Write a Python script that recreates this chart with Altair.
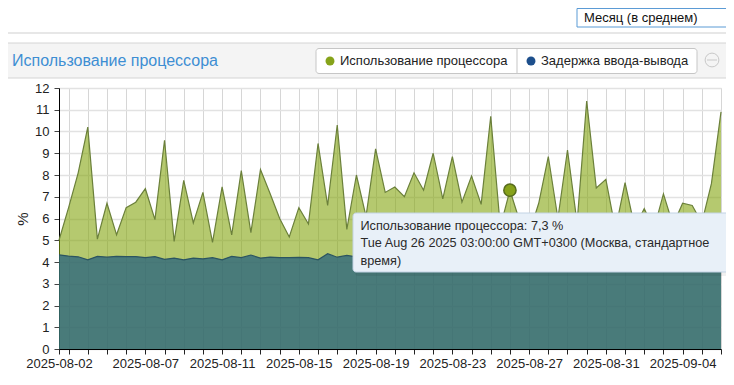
import altair as alt
import pandas as pd

# ---- data (half-day samples starting 2025-08-02 12:00 UTC) ----
cpu = [5.0, 6.5, 8.1, 10.2, 5.05, 6.7, 5.25, 6.5, 6.75, 7.37,
       5.95, 9.6, 4.95, 7.75, 5.8, 7.2, 4.9, 7.45, 5.25, 8.2,
       5.35, 8.25, 7.15, 6.0, 5.15, 6.5, 5.75, 9.45, 6.6, 10.3,
       5.5, 8.0, 6.1, 9.2, 7.2, 7.45, 7.0, 8.1, 7.3, 9.0,
       6.9, 8.85, 6.75, 7.95, 6.65, 10.7, 5.6, 7.3, 5.9, 5.3,
       6.7, 8.85, 6.0, 9.15, 5.8, 11.4, 7.4, 7.8, 5.5, 7.65,
       5.6, 6.45, 5.5, 7.13, 5.7, 6.7, 6.6, 5.8, 7.6, 10.9]
io = [4.33, 4.27, 4.24, 4.1, 4.26, 4.22, 4.26, 4.25, 4.25, 4.2,
      4.25, 4.12, 4.18, 4.1, 4.18, 4.14, 4.2, 4.1, 4.26, 4.2,
      4.32, 4.18, 4.22, 4.2, 4.2, 4.21, 4.2, 4.1, 4.38, 4.22,
      4.3, 4.24, 4.2, 4.27, 4.18, 4.22, 4.25, 4.16, 4.22, 4.28,
      4.2, 4.18, 4.24, 4.2, 4.26, 4.15, 4.22, 4.2, 4.25, 4.18,
      4.22, 4.2, 4.26, 4.16, 4.22, 4.2, 4.24, 4.18, 4.22, 4.2,
      4.25, 4.2, 4.18, 4.23, 4.2, 4.22, 4.18, 4.24, 4.2, 4.22]
step = 0.5  # days between samples
t = [i * step for i in range(len(cpu))]

# x-axis ticks (days from 2025-08-02 12:00 UTC)
tick_values = [0.0] + [0.5 + k for k in range(34)] + [34.5]
label_values = [0.0, 4.5, 8.5, 12.5, 16.5, 20.5, 24.5, 28.5, 32.5]
label_texts = ["2025-08-02", "2025-08-07", "2025-08-11", "2025-08-15", "2025-08-19",
               "2025-08-23", "2025-08-27", "2025-08-31", "2025-09-04"]
y_ticks = list(range(0, 13))

hover_t = 23.5
hover_text = ["Использование процессора: 7,3 %",
              "Tue Aug 26 2025 03:00:00 GMT+0300 (Москва, стандартное",
              "время)"]

title_text = "Использование процессора"
legend_names = ["Использование процессора", "Задержка ввода-вывода"]
legend_colors = ["#86a31a", "#1d4f8c"]
period_text = "Месяц (в среднем)"

df = pd.DataFrame({"t": t, "cpu": cpu, "io": io})

label_expr = ""
for v, s in zip(label_values, label_texts):
    label_expr += f"datum.value == {v} ? '{s}' : "
label_expr += "''"

FONT = "Liberation Sans"
W, H = 662, 261

xscale = alt.Scale(domain=[0, 34.5], nice=False, zero=False)
yscale = alt.Scale(domain=[0, 12], nice=False)

xaxis = alt.Axis(values=tick_values, labelExpr=label_expr, title=None, grid=True,
                 gridColor="#d6d6d6", gridWidth=1, domainColor="#000", tickColor="#222",
                 tickSize=5, labelFontSize=13, labelColor="#222", labelFont=FONT,
                 labelPadding=3, labelOverlap=False, labelFlush=False)
yaxis = alt.Axis(values=y_ticks, title="%", grid=True, gridColor="#e2e2e2", gridWidth=1.5,
                 domainColor="#000", tickColor="#444", tickSize=5, labelFontSize=13,
                 labelColor="#222", labelFont=FONT, labelPadding=5, titleFontSize=15,
                 titleFont=FONT, titleFontWeight="normal", titleColor="#222", titlePadding=4,
                 labelOverlap=False)

X = alt.X("t:Q", scale=xscale, axis=xaxis)
Ycpu = alt.Y("cpu:Q", scale=yscale, axis=yaxis)
Yio = alt.Y("io:Q", scale=yscale, axis=yaxis)

base = alt.Chart(df)
cpu_area = base.mark_area(color="#84a50f", opacity=0.6, interpolate="linear").encode(x=X, y=Ycpu)
cpu_line = base.mark_line(color="#6b803a", strokeWidth=1.2).encode(x=X, y=Ycpu)
io_area = base.mark_area(color="#26607e", opacity=0.75).encode(x=X, y=Yio)
io_line = base.mark_line(color="#2b5461", strokeWidth=1.2).encode(x=X, y=Yio)
hover_pt = base.transform_filter(f"datum.t == {hover_t}").mark_point(
    shape="circle", filled=True, size=150, color="#87a21a", stroke="#586d1e",
    strokeWidth=1.5, opacity=1).encode(x=X, y=Ycpu)

one = alt.Data(values=[{}])


def rect(x, x2, y, y2, **kw):
    return alt.Chart(one).mark_rect(**kw).encode(
        x=alt.value(x), x2=alt.value(x2), y=alt.value(y), y2=alt.value(y2))


def text(x, y, s, **kw):
    args = dict(align="left", baseline="middle", font=FONT, fontSize=13, color="#222")
    args.update(kw)
    return alt.Chart(one).mark_text(text=s, **args).encode(x=alt.value(x), y=alt.value(y))


def dot(x, y, color, size=80, **kw):
    return alt.Chart(one).mark_point(shape="circle", filled=True, size=size, color=color,
                                     opacity=1, **kw).encode(x=alt.value(x), y=alt.value(y))


# header decorations (pixel positions relative to plot area)
deco = [
    rect(518, 700, -79.5, -61, fill="#ffffff", stroke="#5b9bd5", strokeWidth=1),
    text(525, -70, period_text, color="#111"),
    rect(-60, 700, -55.5, -54.5, fill="#cfcfcf"),
    rect(-60, 700, -45, -10, fill="#f4f4f4", stroke="#d4d4d4", strokeWidth=1),
    text(-47, -27, title_text, color="#3d8ed3", fontSize=16),
    rect(257, 638, -39.5, -14.5, fill="#ffffff", stroke="#c6c6c6", strokeWidth=1, cornerRadius=3),
    rect(457.5, 458.5, -39.5, -14.5, fill="#c6c6c6"),
    dot(271, -27, legend_colors[0]),
    text(281, -27, legend_names[0]),
    dot(472, -27, legend_colors[1]),
    text(482, -27, legend_names[1]),
    alt.Chart(one).mark_point(shape="circle", size=190, stroke="#c8c8c8", strokeWidth=1,
                              filled=False, opacity=1).encode(x=alt.value(653), y=alt.value(-28)),
    rect(648, 658, -28.5, -27.5, fill="#c8c8c8"),
]

tooltip = [
    rect(296, 700, 128, 188, fill="#000000", opacity=0.06, cornerRadius=3),
    rect(294, 700, 125, 184, fill="#e8f0f8", stroke="#c2d3e4", strokeWidth=1, cornerRadius=3),
    text(301.5, 137.5, hover_text[0], color="#2a2a2a", fontSize=12.7),
    text(301.5, 155, hover_text[1], color="#2a2a2a", fontSize=12.7),
    text(301.5, 173, hover_text[2], color="#2a2a2a", fontSize=12.7),
]

chart = alt.layer(cpu_area, cpu_line, io_area, io_line, hover_pt, *deco, *tooltip).properties(
    width=W, height=H,
    autosize=alt.AutoSizeParams(type="none"),
    padding={"left": 51, "top": 80, "right": 5, "bottom": 28},
).configure_view(stroke="#d8d8d8").configure(background="white")

chart.save("out.html", embed_options={"renderer": "svg", "actions": False})
